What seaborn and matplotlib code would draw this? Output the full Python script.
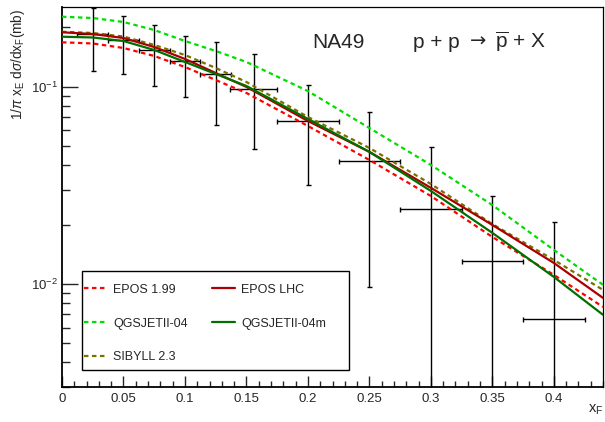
import matplotlib
matplotlib.use("Agg")
import matplotlib.pyplot as plt
from matplotlib.patches import Rectangle
from matplotlib.ticker import FixedLocator, FixedFormatter, LogLocator, NullFormatter, MultipleLocator
import seaborn as sns
import pandas as pd

# ---- data ----
x_data = [0.025, 0.05, 0.075, 0.1, 0.125, 0.156, 0.2, 0.25, 0.3, 0.35, 0.4]
x_err = [0.0125, 0.0125, 0.0125, 0.0125, 0.0125, 0.019, 0.025, 0.025, 0.025, 0.025, 0.025]
y_data = [0.185, 0.1726, 0.1535, 0.1349, 0.116, 0.0974, 0.0667, 0.0420, 0.0240, 0.0131, 0.00665]
y_err = [0.065, 0.056, 0.053, 0.046, 0.052, 0.049, 0.035, 0.0324, 0.0254, 0.0148, 0.0140]

x_model = [0, 0.025, 0.05, 0.075, 0.1, 0.125, 0.15, 0.2, 0.25, 0.3, 0.35, 0.4, 0.44]
epos199 = [0.1679, 0.1656, 0.1571, 0.1431, 0.1258, 0.1081, 0.0929, 0.0632, 0.0425, 0.0279, 0.0173, 0.01111, 0.00764]
qgs04 = [0.2263, 0.2229, 0.2128, 0.1938, 0.1704, 0.1517, 0.1334, 0.0950, 0.0617, 0.0401, 0.0251, 0.01487, 0.00989]
sibyll23 = [0.1900, 0.1871, 0.1796, 0.1627, 0.1447, 0.1244, 0.1056, 0.0702, 0.0489, 0.0321, 0.0201, 0.01323, 0.00932]
eposlhc = [0.1887, 0.1849, 0.1765, 0.1589, 0.1382, 0.1173, 0.0997, 0.0670, 0.0467, 0.0307, 0.0199, 0.01277, 0.00849]
qgs04m = [0.1792, 0.1776, 0.1704, 0.1535, 0.1334, 0.1160, 0.1008, 0.0686, 0.0467, 0.0296, 0.01814, 0.01085, 0.00697]

model_names = ["EPOS 1.99", "QGSJETII-04", "SIBYLL 2.3", "EPOS LHC", "QGSJETII-04m"]
model_values = [epos199, qgs04, sibyll23, eposlhc, qgs04m]
model_colors = ["#ff0000", "#00dd00", "#7a7000", "#aa0000", "#007000"]
model_dashed = [True, True, True, False, False]

x_ticks = [0, 0.05, 0.1, 0.15, 0.2, 0.25, 0.3, 0.35, 0.4]
x_tick_labels = ["0", "0.05", "0.1", "0.15", "0.2", "0.25", "0.3", "0.35", "0.4"]
y_ticks = [0.01, 0.1]
y_tick_labels = [r"$10^{-2}$", r"$10^{-1}$"]

# ---- style ----
sns.set_style("ticks")
plt.rcParams["font.family"] = ["Liberation Sans", "DejaVu Sans"]
plt.rcParams["mathtext.fontset"] = "custom"
plt.rcParams["mathtext.rm"] = "Liberation Sans"
plt.rcParams["mathtext.it"] = "Liberation Sans:italic"
plt.rcParams["mathtext.bf"] = "Liberation Sans:bold"

fig = plt.figure(figsize=(6.05, 4.22), dpi=100)
ax = fig.add_axes([62 / 605, 35 / 422, 541 / 605, 380 / 422])

# data points with error bars
y_low = [min(e, v * 0.9999) for v, e in zip(y_data, y_err)]
ax.errorbar(x_data, y_data, xerr=x_err, yerr=[y_low, y_err], fmt="none",
            ecolor="black", elinewidth=1.0, capsize=1.8, capthick=1.0, zorder=2)

# model curves
for name, vals, col, dashed in zip(model_names, model_values, model_colors, model_dashed):
    df = pd.DataFrame({"xF": x_model, "val": vals})
    sns.lineplot(data=df, x="xF", y="val", ax=ax, color=col, linewidth=1.6,
                 label=name, zorder=3)
    line = ax.lines[-1]
    if dashed:
        line.set_dashes([2.0, 1.6])

ax.set_yscale("log")
ax.set_xlim(0, 0.44)
ax.set_ylim(0.003, 0.2535)
ax.set_xlabel("")
ax.set_ylabel("")

ax.xaxis.set_major_locator(FixedLocator(x_ticks))
ax.xaxis.set_major_formatter(FixedFormatter(x_tick_labels))
ax.xaxis.set_minor_locator(MultipleLocator(0.01))
ax.yaxis.set_major_locator(FixedLocator(y_ticks))
ax.yaxis.set_major_formatter(FixedFormatter(y_tick_labels))
ax.yaxis.set_minor_locator(LogLocator(base=10, subs=[2, 3, 4, 5, 6, 7, 8, 9]))
ax.yaxis.set_minor_formatter(NullFormatter())

ax.tick_params(axis="x", which="major", direction="in", length=8, width=1, labelsize=9.5, pad=4,
               top=False, bottom=True)
ax.tick_params(axis="x", which="minor", direction="in", length=4.2, width=1, top=False, bottom=True)
ax.tick_params(axis="y", which="major", direction="in", length=11.5, width=1, labelsize=9.5, pad=3,
               left=True, right=False)
ax.tick_params(axis="y", which="minor", direction="in", length=5.8, width=1, left=True, right=False)

for side in ["left", "bottom"]:
    ax.spines[side].set_linewidth(1.3)
for side in ["top", "right"]:
    ax.spines[side].set_linewidth(0.9)
for s in ax.spines.values():
    s.set_color("black")

# legend
leg = ax.legend(ncol=2, loc="upper left", bbox_to_anchor=(80 / 605, 1 - 280 / 422),
                bbox_transform=fig.transFigure, frameon=False, fontsize=9,
                handlelength=1.9, handletextpad=0.45, labelspacing=1.75,
                columnspacing=1.9, borderpad=0.3, borderaxespad=0)
fig.patches.append(Rectangle((82 / 605, 1 - 370 / 422), (349 - 82) / 605, (370 - 271) / 422,
                             transform=fig.transFigure, fill=False, edgecolor="black",
                             linewidth=1.0, zorder=10))

# texts
fig.text(338 / 605, 1 - 42 / 422, "NA49", ha="center", va="center", fontsize=15)
fig.text(413 / 605, 1 - 42 / 422, "p + p", ha="left", va="center", fontsize=15)
fig.text(478 / 605, 1 - 41 / 422, "\u2192", ha="center", va="center", fontsize=14,
         family=["DejaVu Sans"])
fig.text(546 / 605, 1 - 42 / 422, r"$\overline{\mathrm{p}}$ + X", ha="right", va="center",
         fontsize=15)
fig.text(18 / 605, 1 - 9 / 422, r"1/$\pi$ x$_{\mathrm{E}}$ d$\sigma$/dx$_{\mathrm{F}}$(mb)",
         rotation=90, ha="center", va="top", fontsize=9.8)
fig.text(603 / 605, 1 - 410 / 422, r"x$_{\mathrm{F}}$", ha="right", va="center", fontsize=10.5)

fig.savefig("out.png", dpi=100)
